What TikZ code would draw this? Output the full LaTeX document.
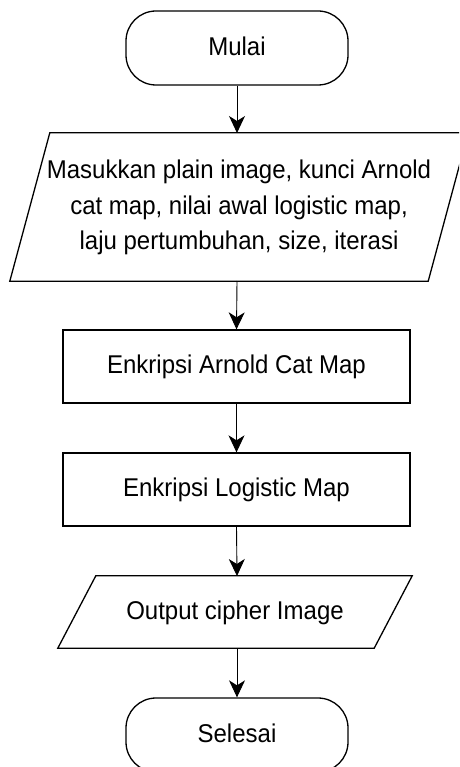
\documentclass[tikz,border=0pt]{standalone}
\usepackage{fontspec}
\setmainfont{Liberation Sans}
\usetikzlibrary{arrows.meta}
\newcommand{\tallt}[1]{\scalebox{1}[1.07]{\begin{tabular}{@{}c@{}}#1\end{tabular}}}
\begin{document}
\begin{tikzpicture}[x=1pt,y=-1pt,
  term/.style={draw, line width=1.3pt, rounded corners=30pt, minimum width=222pt, minimum height=74pt, inner sep=0pt},
  proc/.style={draw, line width=1.3pt, minimum width=347pt, minimum height=73pt, inner sep=0pt},
  io/.style={inner sep=0pt, align=center},
  shapeline/.style={line width=1.3pt, line join=miter},
  arr/.style={line width=0.9pt, -{Stealth[length=17pt,width=16pt,inset=5pt]}},
  font=\fontsize{24}{33}\selectfont]
\useasboundingbox (0,0) rectangle (459,767);
\clip (0,0) rectangle (459,767);
\fill[white] (0,0) rectangle (459,767);
\node[term] (start) at (237,48) {\tallt{Mulai}};
\node[io, minimum width=418pt, minimum height=148pt] (in) at (239,207)
  {\tallt{Masukkan plain image, kunci Arnold\\cat map, nilai awal logistic map,\\laju pertumbuhan, size, iterasi}};
\draw[shapeline] ([xshift=20pt]in.north west) -- ([xshift=20pt]in.north east)
  -- ([xshift=-20pt]in.south east) -- ([xshift=-20pt]in.south west) -- cycle;
\node[proc] (acm) at (236.5,366.5) {\tallt{Enkripsi Arnold Cat Map}};
\node[proc] (lm) at (236.5,489.5) {\tallt{Enkripsi Logistic Map}};
\node[io, minimum width=316pt, minimum height=72pt] (out) at (235,612) {\tallt{Output cipher Image}};
\draw[shapeline] ([xshift=19pt]out.north west) -- ([xshift=19pt]out.north east)
  -- ([xshift=-19pt]out.south east) -- ([xshift=-19pt]out.south west) -- cycle;
\node[term] (end) at (237,735) {\tallt{Selesai}};
\coordinate (inT) at (237,133);
\coordinate (inB) at (237,281);
\coordinate (outT) at (237,576);
\coordinate (outB) at (237,648);
\draw[arr] (start.south) -- (inT);
\draw[arr] (inB) -- (acm.north);
\draw[arr] (acm.south) -- (lm.north);
\draw[arr] (lm.south) -- (outT);
\draw[arr] (outB) -- (end.north);
\end{tikzpicture}
\end{document}
